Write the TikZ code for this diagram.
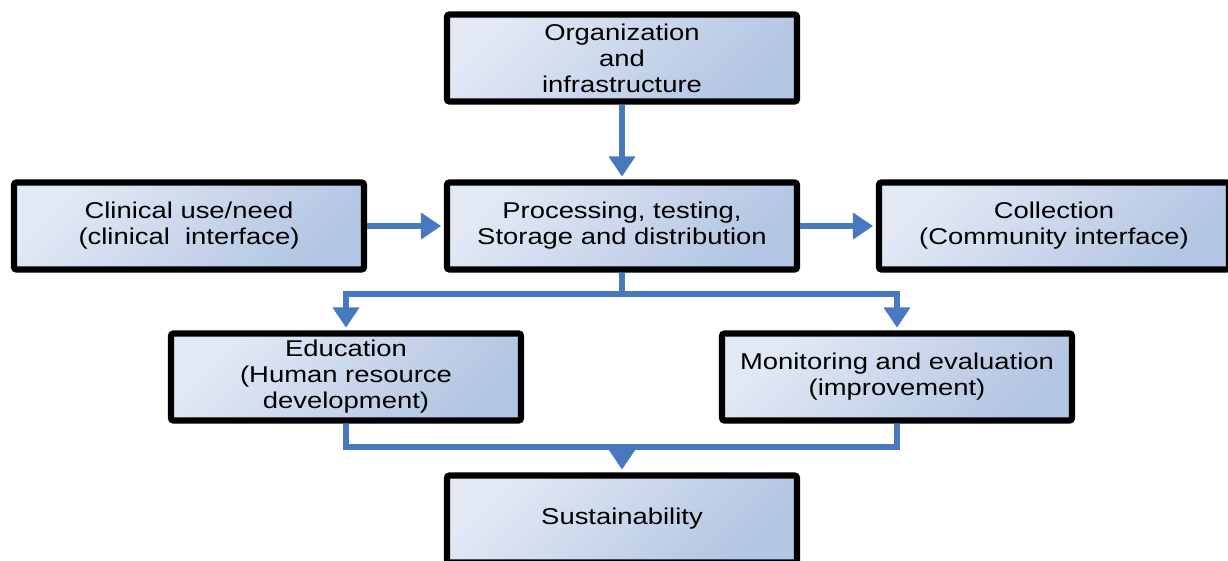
\documentclass[tikz,border=0pt]{standalone}
\usepackage{fontspec}
\setmainfont{Liberation Sans}[FakeStretch=1.2]
\usetikzlibrary{arrows.meta}
\definecolor{boxlight}{RGB}{226,233,245}
\definecolor{boxdark}{RGB}{178,197,226}
\definecolor{linkblue}{RGB}{72,120,192}

\begin{document}
\begin{tikzpicture}[x=0.2mm,y=-0.2mm]
   \useasboundingbox (0,0) rectangle (1228,561);
   \tikzstyle{block}=[draw=black,line width=3.6pt,rounded corners=1.5pt,
      top color=boxlight,bottom color=boxdark,shading angle=45,
      minimum width=7cm,minimum height=1.74cm,align=center,
      font=\fontsize{13}{14.8}\selectfont];
   \tikzstyle{line}=[draw=linkblue,line width=3.4pt];
   \tikzstyle{link}=[line,-{Triangle[length=11.5pt,width=14.5pt]},shorten >=1.5pt];
   % boxes
   \node[block] (org) at (622,58) {Organization\\and\\infrastructure};
   \node[block] (proc) at (622,226) {Processing, testing,\\Storage and distribution};
   \node[block] (clin) at (189,226) {Clinical use/need\\(clinical~ interface)};
   \node[block] (coll) at (1054,226) {Collection\\(Community interface)};
   \node[block] (edu) at (346,377) {Education\\(Human resource\\development)};
   \node[block] (mon) at (897,377) {Monitoring and evaluation\\(improvement)};
   \node[block] (sus) at (622,519) {Sustainability};
   \coordinate (split) at (622,294);
   \coordinate (join) at (622,447);
   % arrows
   \draw[link] (org) -- (proc);
   \draw[link] (clin) -- (proc);
   \draw[link] (proc) -- (coll);
   \draw[line] (proc.south) -- (split);
   \draw[link] (split) -| (edu);
   \draw[link] (split) -| (mon);
   \draw[line] (edu.south) |- (join) -| (mon.south);
   \draw[link] (join) -- (sus);
\end{tikzpicture}
\end{document}
